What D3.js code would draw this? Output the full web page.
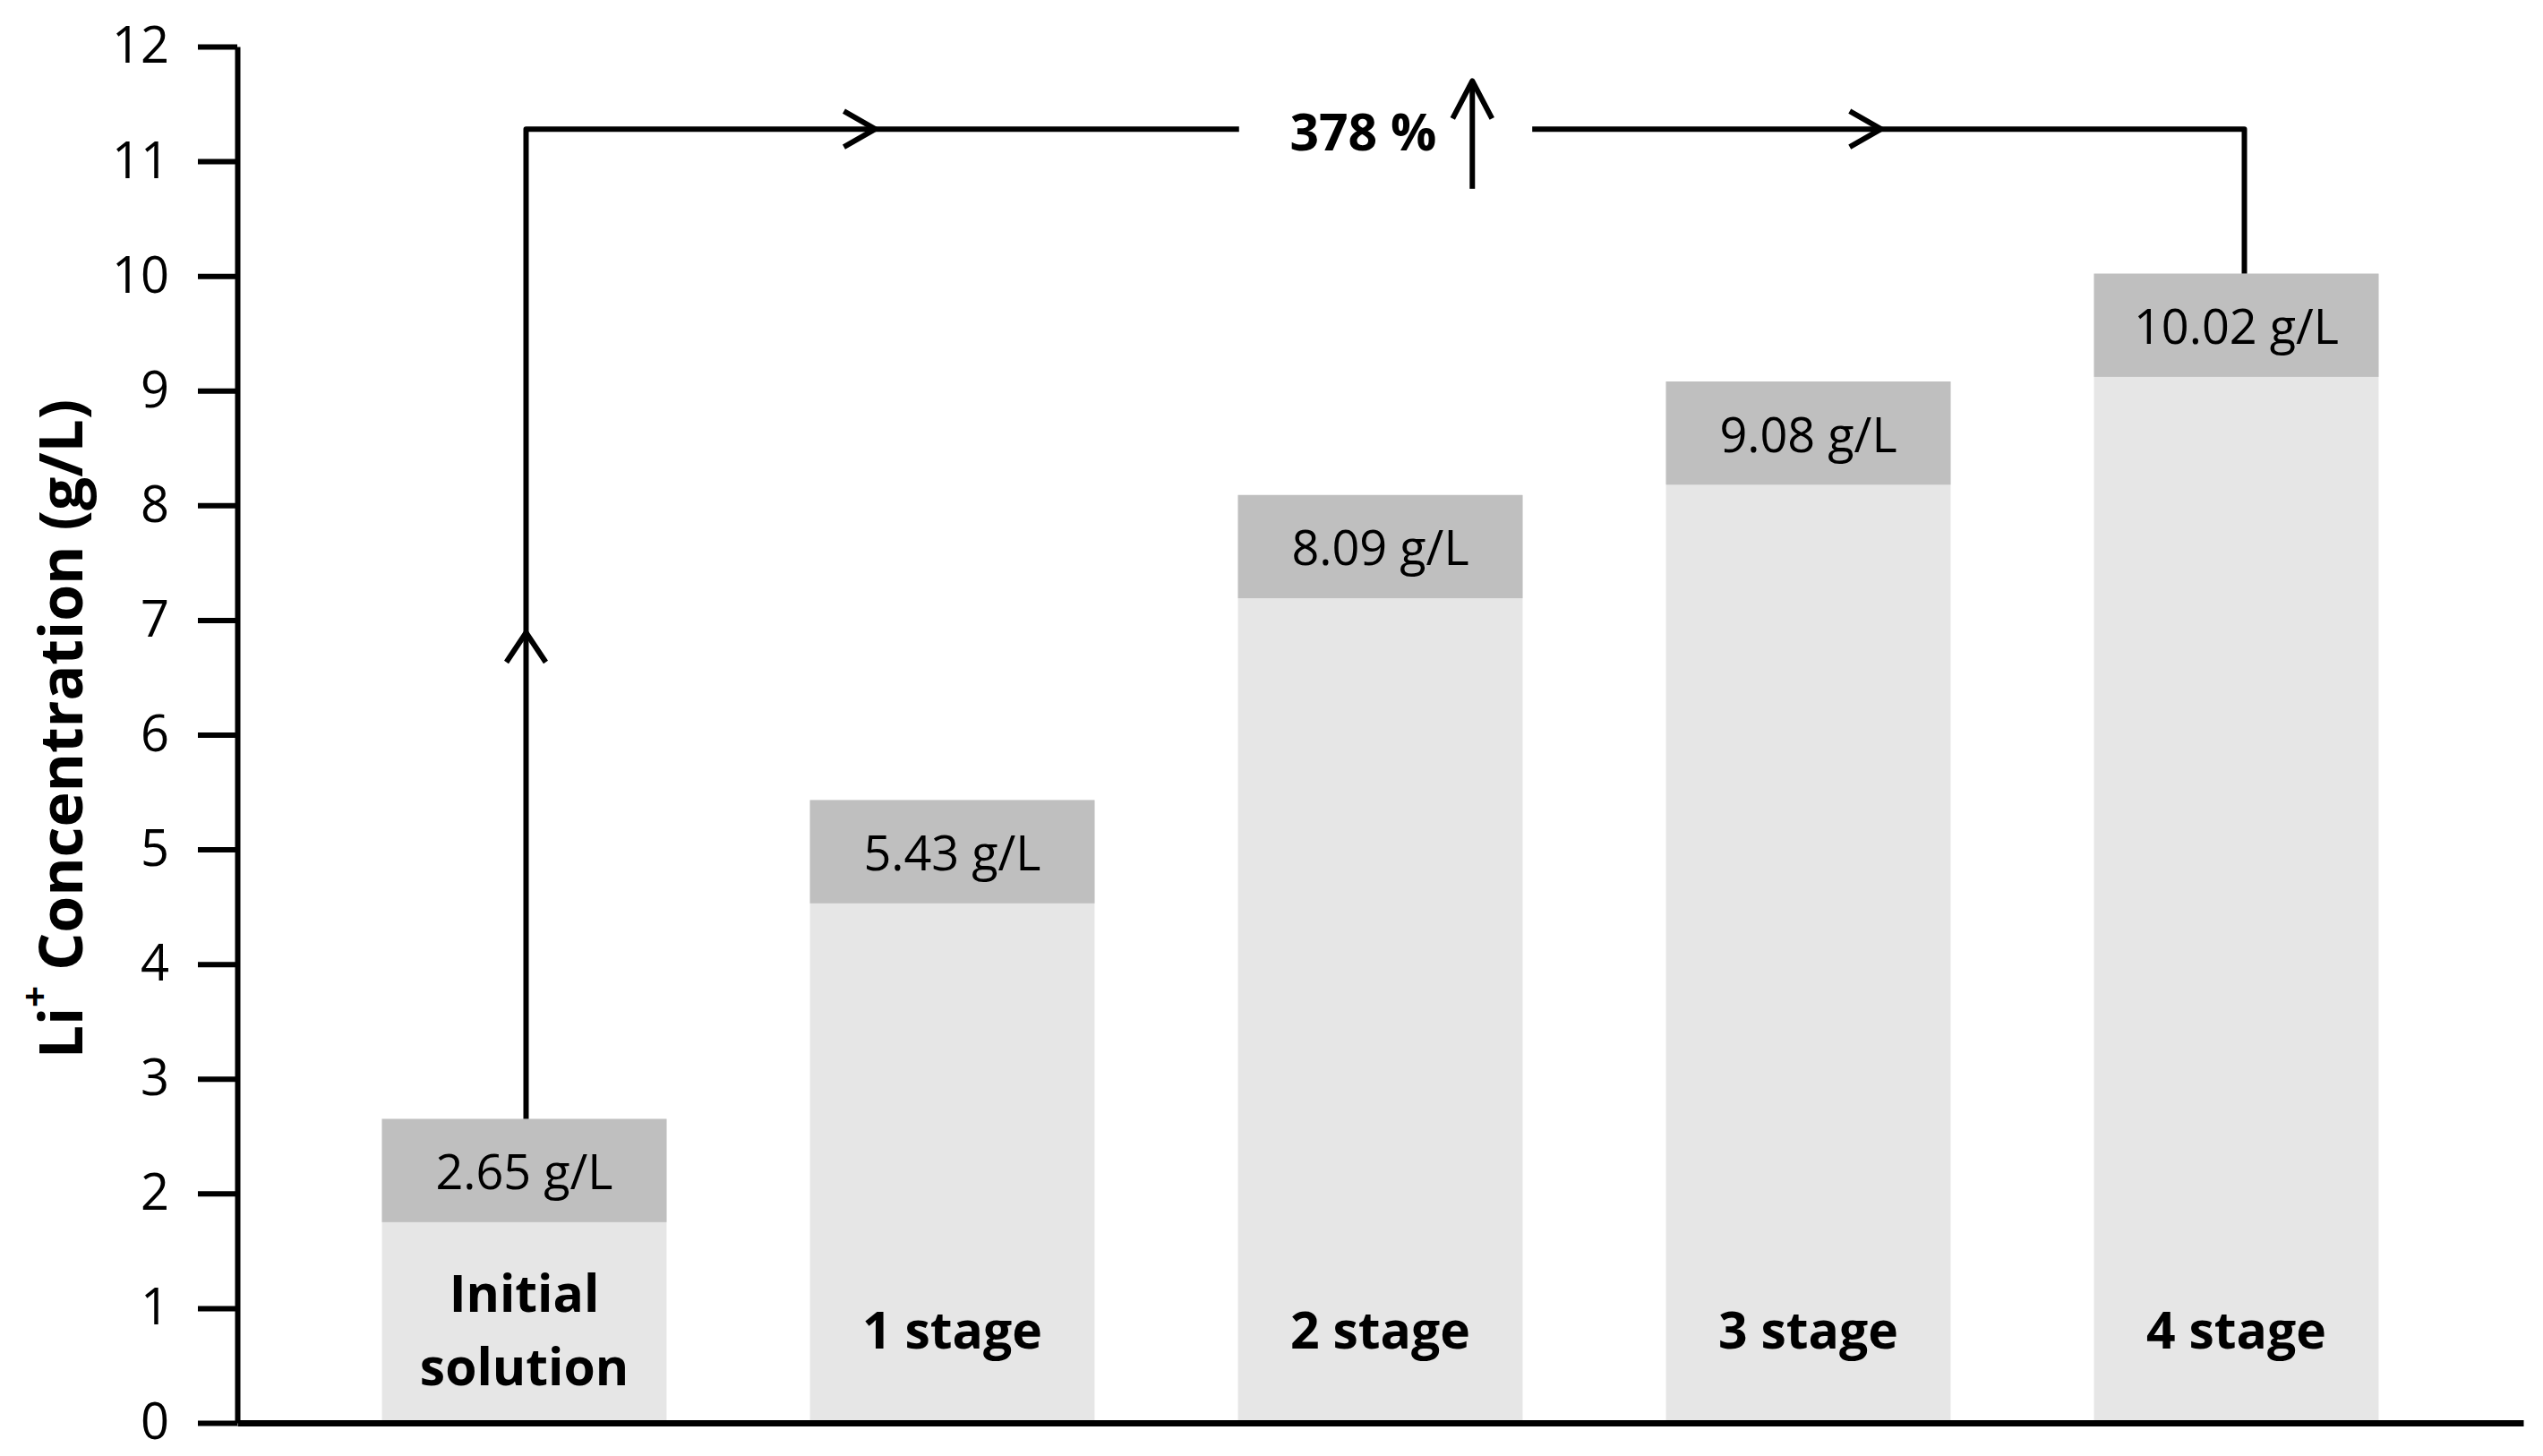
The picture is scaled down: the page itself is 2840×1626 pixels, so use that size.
<!DOCTYPE html>
<html>
<head>
<meta charset="utf-8">
<script src="https://cdn.jsdelivr.net/npm/d3@7"></script>
<style>
  body { margin: 0; background: #fff; }
  text { font-family: "Open Sans", "Noto Sans", sans-serif; fill: #000; }
</style>
</head>
<body>
<div id="chart"></div>
<script>
// data
const categories = ["Initial solution", "1 stage", "2 stage", "3 stage", "4 stage"];
const concentrations = [2.65, 5.43, 8.09, 9.08, 10.02];
const valueLabels = ["2.65 g/L", "5.43 g/L", "8.09 g/L", "9.08 g/L", "10.02 g/L"];
const yTicks = [0, 1, 2, 3, 4, 5, 6, 7, 8, 9, 10, 11, 12];
const capDepth = 0.9;          // dark label cap on top of each bar (g/L)
const increaseLabel = "378 %";
const bracketLevel = 11.28;    // height of the bracket line (g/L)

const W = 2840, H = 1626;
const margin = { top: 52, right: 22, bottom: 37, left: 265 };

const svg = d3.select("#chart").append("svg")
    .attr("width", W)
    .attr("height", H);

const x = d3.scaleBand()
    .domain(categories)
    .range([margin.left, W - margin.right])
    .paddingInner(0.335)
    .paddingOuter(0.338);

const y = d3.scaleLinear()
    .domain([0, 12])
    .range([H - margin.bottom, margin.top]);

const cx = d => x(d) + x.bandwidth() / 2;
// position between category centres (index units) for the annotation
const xi = d3.scaleLinear().domain([0, categories.length - 1])
    .range([cx(categories[0]), cx(categories[categories.length - 1])]);

const data = categories.map((c, i) => ({ cat: c, v: concentrations[i], label: valueLabels[i] }));

// bars: light body
svg.append("g").selectAll("rect")
    .data(data)
    .join("rect")
    .attr("x", d => x(d.cat))
    .attr("width", x.bandwidth())
    .attr("y", d => y(d.v))
    .attr("height", d => y(0) - y(d.v))
    .attr("fill", "#e6e6e6");

// dark cap holding the value label
svg.append("g").selectAll("rect")
    .data(data)
    .join("rect")
    .attr("x", d => x(d.cat))
    .attr("width", x.bandwidth())
    .attr("y", d => y(d.v))
    .attr("height", d => y(d.v - capDepth) - y(d.v))
    .attr("fill", "#bfbfbf");

svg.append("g").selectAll("text")
    .data(data)
    .join("text")
    .attr("x", d => cx(d.cat))
    .attr("y", d => y(d.v - capDepth / 2))
    .attr("text-anchor", "middle")
    .attr("dominant-baseline", "central")
    .style("font-size", "54px")
    .text(d => d.label);

// category names inside the bars
const catText = svg.append("g").selectAll("text")
    .data(data)
    .join("text")
    .attr("x", d => cx(d.cat))
    .attr("y", y(0.82))
    .attr("text-anchor", "middle")
    .style("font-size", "57px")
    .style("font-weight", "bold");

catText.each(function(d) {
    const t = d3.select(this);
    const words = d.cat.split(" ");
    if (d.cat === "Initial solution") {
        t.append("tspan").attr("x", cx(d.cat)).attr("dy", "-0.72em").attr("dominant-baseline", "central").text(words[0]);
        t.append("tspan").attr("x", cx(d.cat)).attr("dy", "1.44em").attr("dominant-baseline", "central").text(words[1]);
    } else {
        t.attr("dominant-baseline", "central").text(d.cat);
    }
});

// y axis
const yAxis = svg.append("g")
    .attr("transform", `translate(${margin.left},0)`)
    .call(d3.axisLeft(y).tickValues(yTicks).tickSize(44).tickSizeOuter(0).tickPadding(32));
yAxis.select(".domain").attr("stroke", "#000").attr("stroke-width", 6);
yAxis.selectAll(".tick line").attr("stroke", "#000").attr("stroke-width", 6);
yAxis.selectAll(".tick text")
    .style("font-size", "56px")
    .style("font-family", "\"Open Sans\", sans-serif")
    .attr("fill", "#000");

// x axis (line only)
const xAxis = svg.append("g")
    .attr("transform", `translate(0,${y(0)})`)
    .call(d3.axisBottom(x).tickSize(0).tickSizeOuter(0).tickFormat(""));
xAxis.select(".domain").attr("stroke", "#000").attr("stroke-width", 7);

// y axis title
const title = svg.append("text")
    .attr("transform", `translate(66,${y(6.05)}) rotate(-90)`)
    .attr("text-anchor", "middle")
    .attr("dominant-baseline", "central")
    .style("font-size", "66px")
    .style("font-weight", "bold");
title.append("tspan").text("Li");
title.append("tspan").attr("baseline-shift", "super").style("font-size", "42px").text("+");
title.append("tspan").text(" Concentration (g/L)");

// bracket annotation
const ann = svg.append("g")
    .attr("fill", "none")
    .attr("stroke", "#000")
    .attr("stroke-width", 6)
    .attr("stroke-linejoin", "round");

const x0 = cx(categories[0]) + 2;
const x4 = cx(categories[4]) + 9;
const yTop = y(bracketLevel);

ann.append("path")
    .attr("d", `M${x0},${y(concentrations[0])} V${yTop} H${xi(1.67)}`);
ann.append("path")
    .attr("d", `M${xi(2.355)},${yTop} H${x4} V${y(concentrations[4])}`);

// chevron heads
const upArrow = (px, py, len, half) => `M${px - half},${py + len} L${px},${py} L${px + half},${py + len}`;
const rightArrow = (px, py, len, half) => `M${px - len},${py - half} L${px},${py} L${px - len},${py + half}`;

ann.append("path").attr("d", upArrow(x0, y(6.89), 33, 22));
ann.append("path").attr("d", rightArrow(xi(0.82), yTop, 35, 20));
ann.append("path").attr("d", rightArrow(xi(3.17), yTop, 35, 20));

// "378 %" with an up arrow
svg.append("text")
    .attr("x", xi(1.96))
    .attr("y", yTop + 2)
    .attr("text-anchor", "middle")
    .attr("dominant-baseline", "central")
    .style("font-size", "57px")
    .style("font-weight", "bold")
    .text(increaseLabel);

const ax = xi(2.215);
ann.append("path").attr("d", `M${ax},${y(bracketLevel - 0.52)} V${y(bracketLevel + 0.42)}`);
ann.append("path").attr("d", upArrow(ax, y(bracketLevel + 0.42), 42, 22));
</script>
</body>
</html>
